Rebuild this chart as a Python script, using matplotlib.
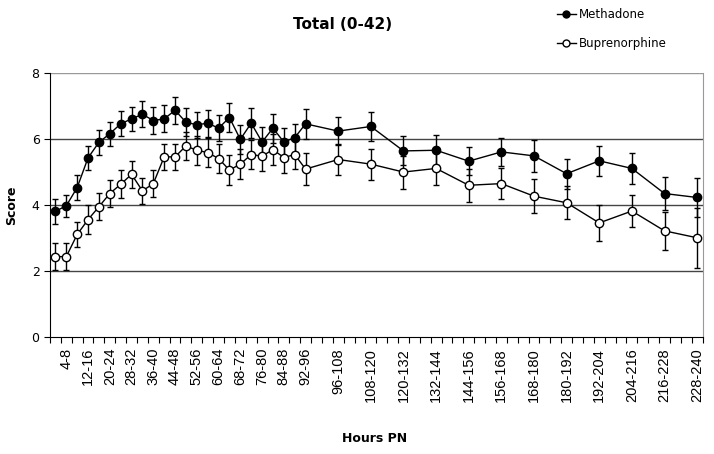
import matplotlib
matplotlib.use("Agg")
import matplotlib.pyplot as plt
from matplotlib.lines import Line2D
import numpy as np

# interval labels (hours post-natal)
intervals = ["0-4", "4-8", "8-12", "12-16", "16-20", "20-24", "24-28", "28-32",
             "32-36", "36-40", "40-44", "44-48", "48-52", "52-56", "56-60", "60-64",
             "64-68", "68-72", "72-76", "76-80", "80-84", "84-88", "88-92", "92-96",
             "96-108", "108-120", "120-132", "132-144", "144-156", "156-168",
             "168-180", "180-192", "192-204", "204-216", "216-228", "228-240"]

methadone = [3.8, 3.97, 4.52, 5.42, 5.89, 6.15, 6.45, 6.6, 6.74, 6.55, 6.6, 6.86,
             6.5, 6.42, 6.47, 6.32, 6.64, 5.98, 6.47, 5.9, 6.32, 5.9, 6.03, 6.45,
             6.23, 6.37, 5.63, 5.65, 5.32, 5.6, 5.48, 4.94, 5.33, 5.1, 4.34, 4.22]
methadone_err = [0.37, 0.34, 0.38, 0.36, 0.37, 0.37, 0.38, 0.37, 0.39, 0.4, 0.41, 0.4,
                 0.43, 0.4, 0.41, 0.39, 0.44, 0.43, 0.45, 0.45, 0.44, 0.43, 0.43, 0.45,
                 0.43, 0.45, 0.44, 0.45, 0.43, 0.43, 0.48, 0.45, 0.46, 0.48, 0.51, 0.58]

bupren = [2.43, 2.43, 3.1, 3.55, 3.94, 4.34, 4.62, 4.92, 4.42, 4.64, 5.45, 5.45,
          5.78, 5.65, 5.58, 5.4, 5.05, 5.23, 5.52, 5.47, 5.67, 5.43, 5.52, 5.08,
          5.37, 5.23, 4.99, 5.1, 4.59, 4.64, 4.26, 4.06, 3.45, 3.81, 3.21, 3.0]
bupren_err = [0.41, 0.41, 0.39, 0.43, 0.41, 0.41, 0.42, 0.4, 0.39, 0.42, 0.4, 0.4,
              0.43, 0.44, 0.44, 0.45, 0.45, 0.46, 0.45, 0.46, 0.48, 0.48, 0.45, 0.48,
              0.48, 0.47, 0.5, 0.5, 0.5, 0.48, 0.52, 0.5, 0.54, 0.49, 0.58, 0.9]

# each point sits in the last 4-hour slot of its interval
x = [int(s.split("-")[1]) - 2 for s in intervals]
# labelled intervals: every other 4-h bin, then all 12-h bins
shown = [s for i, s in enumerate(intervals) if (i < 24 and i % 2 == 1) or i >= 24]
shown_x = [int(s.split("-")[1]) - 2 for s in shown]

fig = plt.figure(figsize=(7.14, 4.54), dpi=100)
ax = fig.add_axes([0.070, 0.258, 0.914, 0.582])

for yv in [2, 4, 6]:
    ax.axhline(yv, color="#444444", lw=1.0, zorder=1)
ax.axhline(8, color="#999999", lw=1.0, zorder=1)

ax.errorbar(x, methadone, yerr=methadone_err, fmt="-o", color="black", lw=1,
            ms=6, mfc="black", mec="black", elinewidth=1, capsize=2.5,
            capthick=1, zorder=3)
ax.errorbar(x, bupren, yerr=bupren_err, fmt="-o", color="black", lw=1,
            ms=6, mfc="white", mec="black", mew=1, elinewidth=1, capsize=2.5,
            capthick=1, zorder=3)

ax.set_xlim(0, 240)
ax.set_ylim(0, 8)
ax.set_yticks([0, 2, 4, 6, 8])
ax.set_xticks(shown_x)
ax.set_xticklabels(shown, rotation=90, fontsize=10.5, family="Liberation Sans")
ax.set_xticks(np.arange(0, 241, 4), minor=True)
ax.tick_params(axis="x", which="major", length=0, pad=8)
ax.tick_params(axis="x", which="minor", length=4, width=0.8, direction="out")
ax.tick_params(axis="y", length=4, width=0.8, direction="out", labelsize=9)

ax.spines["top"].set_visible(False)
ax.spines["right"].set_color("#999999")
ax.spines["left"].set_color("black")
ax.spines["bottom"].set_color("black")

ax.set_ylabel("Score", fontsize=9, fontweight="bold", labelpad=10)
fig.text(0.525, 0.027, "Hours PN", ha="center", fontsize=9, fontweight="bold")
fig.text(0.48, 0.945, "Total (0-42)", ha="center", va="center",
         fontsize=11, fontweight="bold")

handles = [Line2D([], [], color="black", lw=1, marker="o", ms=5, mfc="black", mec="black"),
           Line2D([], [], color="black", lw=1, marker="o", ms=5, mfc="white", mec="black")]
fig.legend(handles, ["Methadone", "Buprenorphine"], loc="upper left",
           bbox_to_anchor=(0.765, 1.005), frameon=False, fontsize=8.5,
           handlelength=1.6, labelspacing=1.3, handletextpad=0.3)

fig.savefig("out.png", dpi=100, facecolor="white")
